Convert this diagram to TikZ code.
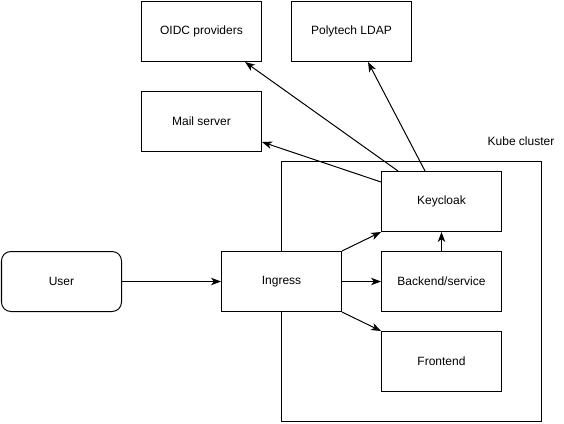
\documentclass[tikz,border=0pt]{standalone}
\usepackage{fontspec}
\setmainfont{Liberation Sans}
\usetikzlibrary{arrows.meta,calc}
\begin{document}
\begin{tikzpicture}[x=0.75pt,y=-0.75pt,
  box/.style={draw,fill=white,line width=0.75pt,minimum width=90pt,minimum height=45pt,inner sep=0pt,font=\fontsize{9pt}{11pt}\selectfont,anchor=north west},
  conn/.style={line width=0.75pt,-{Stealth[length=7.5pt,width=5.6pt,inset=2.2pt]}}]
\useasboundingbox (0,0) rectangle (564,424);
\node[draw,line width=0.75pt,minimum width=195pt,minimum height=195pt,inner sep=0pt,anchor=north west] (kube) at (281,161) {};
\node[font=\fontsize{9pt}{11pt}\selectfont] (kubelabel) at (521,141) {Kube cluster};
\node[box] (oidc) at (141,1) {OIDC providers};
\node[box] (ldap) at (291,1) {Polytech LDAP};
\node[box] (mail) at (141,91) {Mail server};
\node[box] (kc) at (381,171) {Keycloak};
\node[box,rounded corners=7pt] (user) at (1,251) {User};
\node[box] (ing) at (221,251) {Ingress};
\node[box] (be) at (381,251) {Backend/service};
\node[box] (fe) at (381,331) {Frontend};
\draw[conn] (user.east) -- (ing.west);
\draw[conn] (ing.north east) -- (kc.south west);
\draw[conn] (ing.east) -- (be.west);
\draw[conn] (ing.south east) -- (fe.north west);
\draw[conn] (be.north) -- (kc.south);
\draw[conn] ($(kc.north west)+(0,11)$) -- ($(mail.south east)+(0,-10)$);
\draw[conn] ($(kc.north west)+(17,0)$) -- ($(oidc.south east)+(-17,0)$);
\draw[conn] ($(kc.north west)+(44,0)$) -- ($(ldap.south west)+(77,0)$);
\end{tikzpicture}
\end{document}
